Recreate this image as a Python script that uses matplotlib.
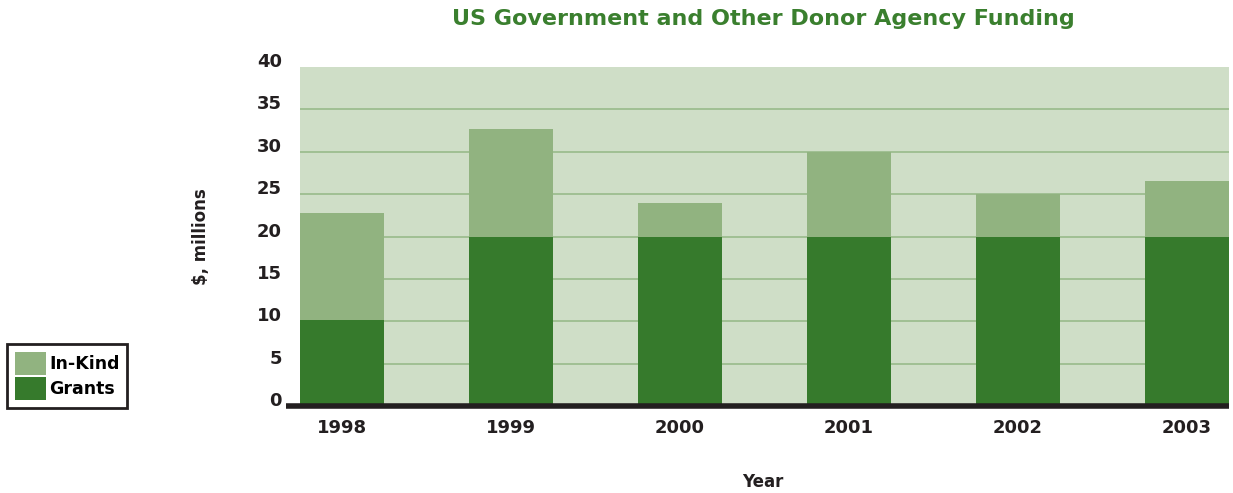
import matplotlib.pyplot as plt
import matplotlib.transforms as mtransforms
from matplotlib.patches import Patch

years = ['1998', '1999', '2000', '2001', '2002', '2003']
grants = [10.2, 20, 20, 20, 20, 20]
in_kind = [12.6, 12.6, 4.0, 10.0, 5.0, 6.5]

dark = '#367a2c'
light = '#91b380'
bg = '#cfdec7'
grid = '#98bb8a'

fig = plt.figure(figsize=(12.33, 4.93), dpi=100)
ax = fig.add_axes([0.2433, 0.1755, 0.7535, 0.6895])
ax.set_facecolor(bg)

x = range(len(years))
ax.bar(x, grants, width=0.5, color=dark, zorder=3)
ax.bar(x, in_kind, width=0.5, bottom=grants, color=light, zorder=3)

ax.set_xlim(-0.25, 5.25)
ax.set_ylim(0, 40)
ax.set_yticks(range(0, 45, 5))
ax.set_xticks(list(x))
ax.set_xticklabels(years)
for y in range(5, 40, 5):
    ax.axhline(y, color=grid, lw=1.2, zorder=1)

for s in ax.spines.values():
    s.set_visible(False)
ax.tick_params(length=0)
ax.tick_params(axis='y', pad=13)
ax.tick_params(axis='x', pad=9)
shift = mtransforms.ScaledTranslation(0, 0.07, fig.dpi_scale_trans)
for lab in ax.get_xticklabels() + ax.get_yticklabels():
    lab.set_fontweight('bold')
    lab.set_fontsize(13)
    lab.set_color('#231f20')
for lab in ax.get_yticklabels():
    lab.set_transform(lab.get_transform() + shift)

# thick baseline
ax.plot([-0.33, 5.25], [0, 0], color='#231f20', lw=4, clip_on=False, zorder=5,
        solid_capstyle='butt')

fig.text(0.619, 0.962, 'US Government and Other Donor Agency Funding', ha='center', va='center',
         fontsize=16, fontweight='bold', color='#3a7f2e')
fig.text(0.163, 0.52, '$, millions', rotation=90, ha='center', va='center',
         fontsize=12, fontweight='bold', color='#231f20')
fig.text(0.619, 0.022, 'Year', ha='center', va='center',
         fontsize=12, fontweight='bold', color='#231f20')

handles = [Patch(facecolor=light, label='In-Kind'), Patch(facecolor=dark, label='Grants')]
leg = fig.legend(handles=handles, loc='lower left', bbox_to_anchor=(0.006, 0.172),
                 frameon=True, fancybox=False, edgecolor='#231f20', framealpha=1,
                 handlelength=1.8, handleheight=1.7, handletextpad=0.15, labelspacing=0.1,
                 borderpad=0.45, borderaxespad=0, prop={'weight': 'bold', 'size': 12.5})
leg.get_frame().set_linewidth(2)

fig.savefig('out.png', dpi=100)
